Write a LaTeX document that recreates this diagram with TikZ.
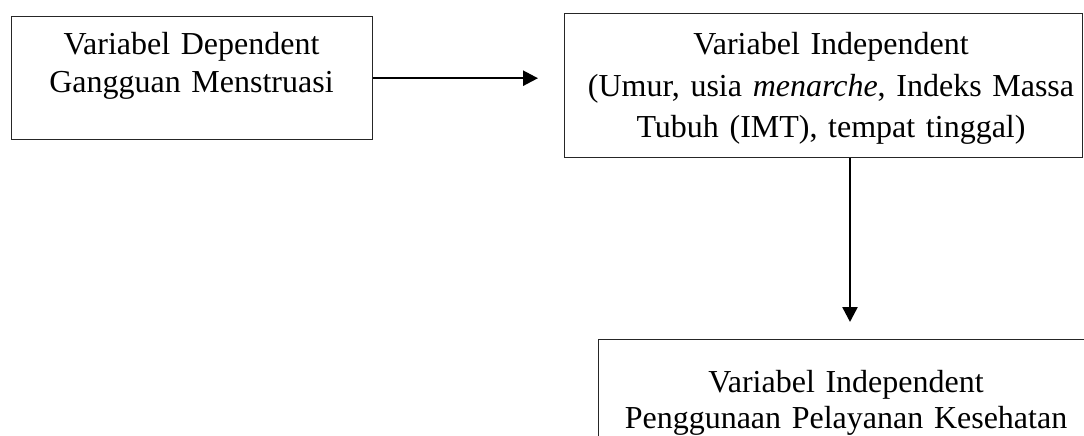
\documentclass[tikz,border=0pt]{standalone}
\usepackage{fontspec}
\setmainfont{Liberation Serif}
\usetikzlibrary{arrows.meta}
\tikzset{
  boxnode/.style={draw=black!85, line width=1.4pt, rectangle, inner sep=0pt, anchor=north west},
  txt/.style={anchor=base, inner sep=0pt, text width=560pt, align=center, font=\fontsize{32}{#1}\selectfont},
  conn/.style={line width=2.5pt, -{Triangle[length=15pt,width=15pt]}}
}
\begin{document}
\begin{tikzpicture}[x=1pt,y=-1pt]
\useasboundingbox (0,0) rectangle (1084,436);
\clip (0,0) rectangle (1084,436);
\node[boxnode, minimum width=361pt, minimum height=123pt] (b1) at (11,16) {};
\node[boxnode, minimum width=518pt, minimum height=144pt] (b2) at (564,13) {};
\node[boxnode, minimum width=520pt, minimum height=140pt] (b3) at (598,339) {};
\node[txt=37.7] (t1) at (191.5,55) {Variabel Dependent\\Gangguan Menstruasi};
\node[txt=41.5] (t2) at (831,55) {Variabel Independent\\(Umur, usia \textit{menarche}, Indeks Massa\\Tubuh (IMT), tempat tinggal)};
\node[txt=36] (t3) at (846,392) {Variabel Independent\\Penggunaan Pelayanan Kesehatan};
\coordinate (e1) at (538,77.7);
\coordinate (e2) at (850,322);
\draw[conn] (b1.east) -- (b1.east -| e1);
\draw[conn] (b2.south -| e2) -- (e2);
\end{tikzpicture}
\end{document}
